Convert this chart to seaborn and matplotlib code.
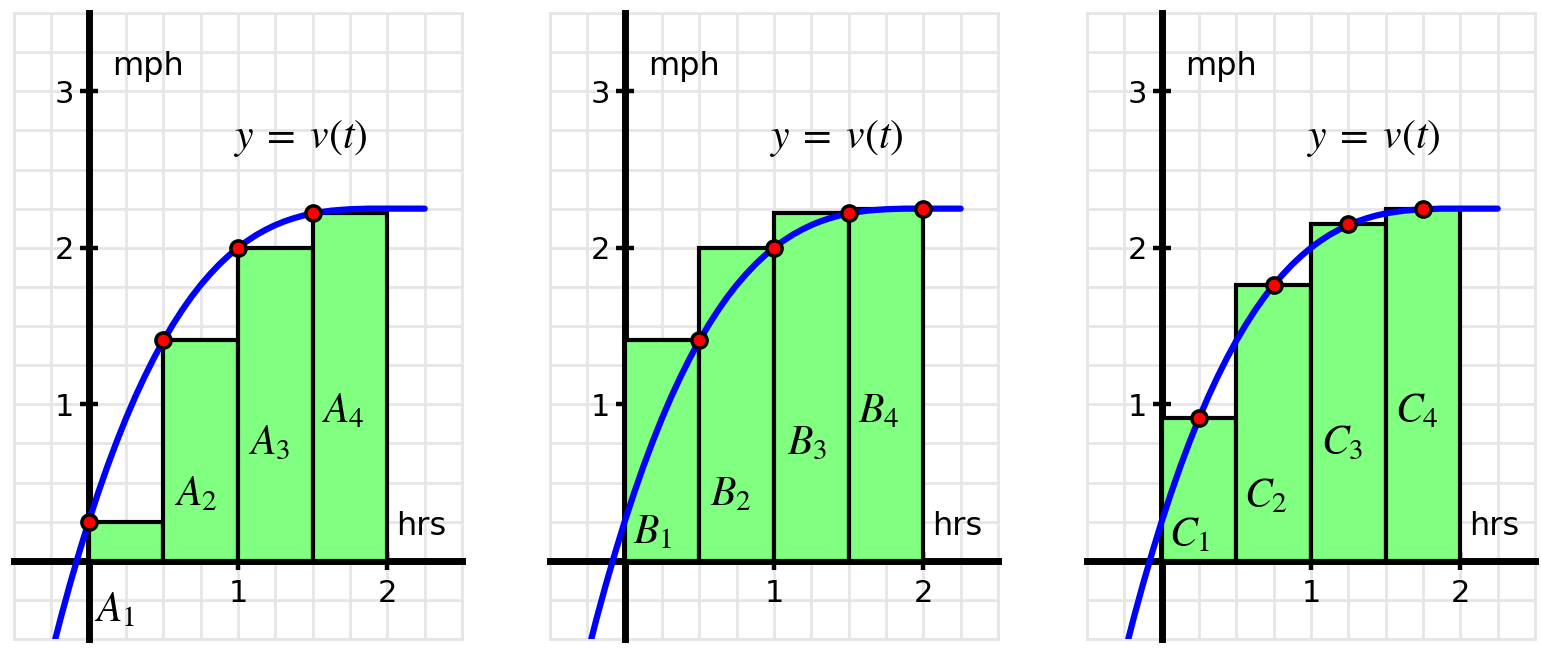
import numpy as np
import seaborn as sns
import matplotlib.pyplot as plt

# velocity curve v(t)
t_curve = [-0.25, -0.1875, -0.125, -0.0625, 0.0, 0.0625, 0.125, 0.1875, 0.25,
           0.3125, 0.375, 0.4375, 0.5, 0.5625, 0.625, 0.6875, 0.75, 0.8125,
           0.875, 0.9375, 1.0, 1.0625, 1.125, 1.1875, 1.25, 1.3125, 1.375,
           1.4375, 1.5, 1.5625, 1.625, 1.6875, 1.75, 1.8125, 1.875, 2.0,
           2.125, 2.25]
v_curve = [-0.598, -0.367, -0.149, 0.056, 0.250, 0.431, 0.602, 0.761, 0.910,
           1.049, 1.177, 1.296, 1.406, 1.507, 1.600, 1.685, 1.762, 1.831,
           1.894, 1.950, 2.000, 2.044, 2.083, 2.116, 2.145, 2.169, 2.189,
           2.206, 2.219, 2.229, 2.237, 2.242, 2.246, 2.248, 2.250, 2.250,
           2.250, 2.250]

left_edges = [0.0, 0.5, 1.0, 1.5]

# sample points and rectangle heights for each panel
a_t = [0.0, 0.5, 1.0, 1.5]
a_v = [0.25, 1.41, 2.00, 2.22]
b_t = [0.5, 1.0, 1.5, 2.0]
b_v = [1.41, 2.00, 2.22, 2.25]
c_t = [0.25, 0.75, 1.25, 1.75]
c_v = [0.91, 1.76, 2.15, 2.25]

a_labels = ["$A_1$", "$A_2$", "$A_3$", "$A_4$"]
b_labels = ["$B_1$", "$B_2$", "$B_3$", "$B_4$"]
c_labels = ["$C_1$", "$C_2$", "$C_3$", "$C_4$"]

# label centres (data coords)
a_pos = [(0.17, -0.31), (0.72, 0.43), (1.21, 0.76), (1.70, 0.96)]
b_pos = [(0.19, 0.19), (0.71, 0.43), (1.22, 0.76), (1.70, 0.96)]
c_pos = [(0.19, 0.17), (0.70, 0.42), (1.21, 0.76), (1.71, 0.96)]

panels = [
    (a_t, a_v, a_labels, a_pos),
    (b_t, b_v, b_labels, b_pos),
    (c_t, c_v, c_labels, c_pos),
]

sns.set_style("white")
plt.rcParams['font.family'] = ['DejaVu Sans']
plt.rcParams['mathtext.fontset'] = 'stix'
plt.rcParams['text.color'] = 'black'
plt.rcParams['xtick.color'] = 'black'
plt.rcParams['ytick.color'] = 'black'

fig = plt.figure(figsize=(15.41, 6.48), dpi=100)
lefts = [14 / 1541, 550 / 1541, 1087 / 1541]
w = 448 / 1541
b = 9 / 648
h = 626 / 648

xlim = (-0.5, 2.5)
ylim = (-0.5, 3.5)

for (pt, pv, labs, pos), lx in zip(panels, lefts):
    # background grid
    bg = fig.add_axes([lx, b, w, h])
    bg.set_xlim(xlim)
    bg.set_ylim(ylim)
    bg.set_xticks(np.arange(-0.5, 2.51, 0.25))
    bg.set_yticks(np.arange(-0.5, 3.51, 0.25))
    bg.tick_params(length=0, labelleft=False, labelbottom=False)
    bg.grid(True, color='#e6e6e6', lw=2)
    for s in bg.spines.values():
        s.set_color('#e6e6e6')
        s.set_linewidth(2)

    ax = fig.add_axes([lx, b, w, h], facecolor='none')
    ax.set_xlim(xlim)
    ax.set_ylim(ylim)

    ax.bar(left_edges, pv, width=0.5, align='edge', color='#80ff80',
           edgecolor='black', linewidth=3, zorder=3)

    ax.spines['left'].set_position(('data', 0))
    ax.spines['bottom'].set_position(('data', 0))
    ax.spines['top'].set_visible(False)
    ax.spines['right'].set_visible(False)
    for s in ['left', 'bottom']:
        ax.spines[s].set_linewidth(5)
        ax.spines[s].set_color('black')
        ax.spines[s].set_zorder(2.5)
    ax.set_xticks([1, 2])
    ax.set_yticks([1, 2, 3])
    ax.tick_params(axis='both', direction='inout', length=13, width=3.2,
                   labelsize=22, color='black', labelcolor='black',
                   bottom=True, left=True)
    ax.tick_params(axis='y', pad=4)
    ax.tick_params(axis='x', pad=7)

    sns.lineplot(x=t_curve, y=v_curve, ax=ax, color='#0000ff', lw=4.5,
                 zorder=4, solid_joinstyle='round')
    sns.scatterplot(x=pt, y=pv, ax=ax, color='#ff0000', edgecolor='black',
                    linewidth=2.5, s=120, zorder=5)

    ax.text(0.154, 3.16, "mph", fontsize=23, ha='left', va='center')
    ax.text(2.06, 0.22, "hrs", fontsize=23, ha='left', va='center')
    ax.text(1.42, 2.70, r"$y\;=\;v(t)$", fontsize=30, ha='center', va='center')
    for lab, (x, y) in zip(labs, pos):
        ax.text(x, y, lab, fontsize=30, ha='center', va='center', zorder=6)

fig.savefig("out.png", dpi=100)
